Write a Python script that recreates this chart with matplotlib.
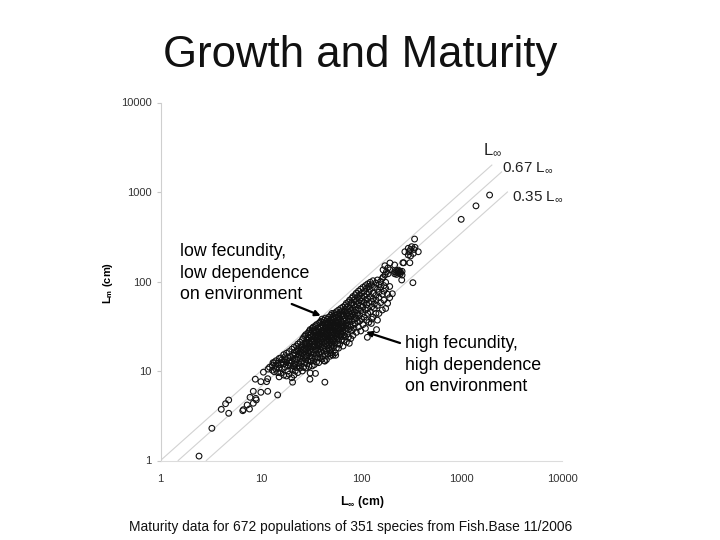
import matplotlib
matplotlib.use('Agg')
import matplotlib.pyplot as plt

# values, in cm
sparse_x = [2.42, 3.25, 4.03, 4.45, 4.78, 4.78, 6.6, 6.7, 7.3, 7.7, 7.8, 8.4, 8.9, 9.0, 8.4, 10, 11.7, 14.7,
            8.8, 10, 10.6, 11.4, 11.7, 12.2, 11.8, 13.2, 43.4, 30.8, 31, 35, 20.7, 43.4, 50.6, 55.6, 76,
            115, 142, 126, 204, 327, 253, 305, 265, 340, 990, 1390, 1900]
sparse_y = [1.12, 2.29, 3.73, 4.31, 4.74, 3.37, 3.6, 3.7, 4.17, 3.76, 5.08, 4.36, 4.95, 4.75, 5.93, 5.78, 5.93, 5.4,
            8.1, 7.6, 9.7, 7.6, 8.2, 11, 10.5, 12.4, 7.5, 8.1, 9.5, 9.4, 7.5, 12.9, 15.3, 15, 20.4,
            23.8, 29, 34, 73, 97, 104, 162, 162, 298, 495, 700, 925]

# dense band: asymptotic length, then the maturity lengths seen at that length
band_columns = [
    (13, [11.5, 10.2]), (13.6, [12.4, 9.8]), (14.1, [10.5, 13, 11.6]), (14.7, [9.6, 12.2]), (15.2, [10.8, 13.8, 8.6]),
    (15.8, [9.5, 11.8, 14]), (16.3, [10.6, 12.6, 13.4]), (16.9, [9, 12, 15.2]), (17.4, [11, 13.4, 14.4]),
    (18, [8.8, 12.5, 15.8]), (18.6, [10, 14, 11.6]), (19.1, [9.2, 13, 16.5]), (19.7, [11.4, 14.6, 12.2]),
    (20.3, [8.4, 10.5, 12.8, 17.5]), (20.9, [15, 11.4, 13.8]), (21.4, [9, 11.2, 16, 18.5]), (22, [13.6, 10, 15, 12]),
    (22.7, [19, 16.6, 13.4, 11]), (23.3, [9.6, 14.2, 17.2, 20]), (23.9, [12.2, 15.4, 18.2, 11.4]),
    (24.6, [13.8, 10.8, 21, 16.4]), (25.2, [12.6, 18.6, 14.8, 17]), (25.9, [10, 22.5, 15.6, 19.6, 13]),
    (26.6, [11, 14, 17.4, 23.5]), (27.3, [12.4, 16.4, 20, 18, 24.5]), (28, [10.8, 15, 19, 21, 13.4, 25.5]),
    (28.7, [12, 14.6, 17.4, 23, 20.4]), (29.4, [18.2, 22, 26.5, 16, 13]), (30.1, [11.2, 15.8, 19, 23.6, 27.5, 21]),
    (30.9, [13.4, 17.4, 25, 14.6, 20, 29]), (31.7, [12.8, 16.2, 18, 22, 24, 26.4]), (32.5, [11.4, 14, 19, 21, 28, 30]),
    (33.3, [17.2, 23, 15.6, 25, 31, 13]), (34.1, [18.8, 22, 11.8, 26.6, 20, 29]), (35, [14.4, 17, 24, 32, 28, 21]),
    (35.9, [12.6, 15.4, 18.4, 22, 27, 33, 25]), (36.8, [20, 24.6, 14, 30, 17, 23]),
    (37.7, [15.6, 19, 21, 26, 34, 28, 12.4]), (38.7, [23, 35, 17.6, 14.2, 25, 31, 20]),
    (39.7, [16.4, 22, 27, 36, 18.6, 30, 24]), (40.7, [13.6, 20, 26, 33, 21, 38, 28]),
    (41.7, [14.8, 18, 23, 32, 25, 29, 35]), (42.8, [16.6, 21, 19, 27, 37, 24, 13]),
    (43.9, [15.4, 23.6, 30, 34, 26, 39, 20]), (45, [17, 22, 28, 33, 25, 36, 13.4, 31]),
    (46.2, [19, 24, 29, 38, 21, 27, 35, 15.6]), (47.4, [18, 23, 31, 26, 40, 34, 20]),
    (48.6, [17, 22, 28, 36, 25, 30, 33, 14.6]), (49.8, [16, 21, 27, 42, 24, 38, 31, 19]),
    (51.1, [25, 34, 29, 23, 37, 18, 44, 20]), (52.4, [15, 22, 31, 27, 35, 41, 24]),
    (53.7, [19, 26, 33, 29, 38, 44, 23]), (55.1, [21, 28, 36, 30, 16, 25, 42]),
    (56.5, [18, 24, 32, 46, 27, 39, 35]), (58, [23, 30, 37, 20, 34, 43, 26]),
    (59.5, [28, 41, 22, 35, 48, 31, 18]), (61, [25, 33, 38, 45, 29, 20]),
    (62.6, [24, 31, 36, 42, 50, 27]), (64.2, [22, 35, 44, 30, 47, 26]),
    (65.8, [19, 28, 38, 33, 52, 41]), (67.5, [25, 31, 46, 36, 22, 42]),
    (69.2, [28, 39, 54, 33, 49, 24]), (71, [21, 34, 44, 37, 57, 30]),
    (72.8, [26, 41, 52, 47, 32]), (74.7, [36, 59, 29, 45, 24]),
    (76.6, [33, 50, 43, 62, 38]), (78.6, [23, 31, 55, 47, 40]),
    (80.6, [36, 58, 28, 65, 44]), (82.7, [50, 33, 42, 68, 25]),
    (84.8, [38, 55, 46, 62, 30]), (87, [71, 34, 52, 42]),
    (89.2, [48, 60, 27, 74, 39]), (91.5, [55, 36, 66, 44]),
    (93.8, [31, 50, 78, 58]), (96.2, [42, 63, 36, 70]),
    (98.7, [54, 82, 28, 47]), (101, [60, 38, 74, 66]),
    (104, [44, 86, 52, 33]), (107, [68, 40, 78, 58]),
    (110, [90, 48, 30, 62]), (113, [55, 72, 84, 37]),
    (116, [44, 94, 64, 50]), (119, [76, 35, 58, 88]),
    (123, [98, 46, 68, 82]), (127, [52, 60, 92, 38]),
    (131, [40, 74, 102, 64]), (135, [86, 50, 56]),
    (140, [96, 44, 70, 62]), (145, [82, 104, 37, 54]),
    (150, [66, 92, 44, 76]), (156, [100, 58, 86]),
    (162, [72, 108, 48]), (168, [62, 90, 78]),
    (175, [50, 84, 98]), (183, [57, 72]), (192, [66, 88]),
    (165, [135, 112]), (172, [118, 150]), (178, [128]), (185, [142, 122]), (193, [161, 135]), (215, [153, 122, 128]),
    (225, [120, 126, 132]), (235, [124, 130, 134]), (245, [122, 128, 127]), (255, [130, 118]), (260, [162]),
    (272, [215]), (294, [235, 198]), (300, [215]), (310, [193, 228]), (318, [245]), (330, [206]), (335, [228]),
    (343, [241]), (370, [215]),
]

ref_start = [1, 1.5, 2.86]
ref_end = [2000, 2500, 2860]
ref_y_end = [2000, 1675, 1000]

band_x = [x for x, ys in band_columns for y in ys]
band_y = [y for x, ys in band_columns for y in ys]

plt.rcParams['font.family'] = ['Liberation Sans', 'DejaVu Sans']
plt.rcParams['mathtext.default'] = 'regular'

fig = plt.figure(figsize=(7.2, 5.4), dpi=100)
ax = fig.add_axes([160.5 / 720, 79.5 / 540, 401.5 / 720, 358 / 540])

for x0, x1, y1 in zip(ref_start, ref_end, ref_y_end):
    ax.plot([x0, x1], [1, y1], color='#d2d2d2', lw=0.8, zorder=1)

ax.scatter(band_x, band_y, s=17, facecolors='none', edgecolors='#111111', linewidths=0.8, zorder=2)
ax.scatter(sparse_x, sparse_y, s=17, facecolors='none', edgecolors='#111111', linewidths=0.8, zorder=2)

ax.set_xscale('log')
ax.set_yscale('log')
ax.set_xlim(1, 10000)
ax.set_ylim(1, 10000)
ax.set_xticks([1, 10, 100, 1000, 10000], ['1', '10', '100', '1000', '10000'])
ax.set_yticks([1, 10, 100, 1000, 10000], ['1', '10', '100', '1000', '10000'])
ax.minorticks_off()
ax.tick_params(axis='x', length=0, labelsize=8, labelcolor='#333333', pad=9.5)
ax.tick_params(axis='y', length=3, color='#c8c8c8', labelsize=8, labelcolor='#333333', pad=3.5)
ax.spines['top'].set_visible(False)
ax.spines['right'].set_visible(False)
ax.spines['left'].set_color('#cfcfcf')
ax.spines['bottom'].set_color('#dcdcdc')


def px(x, y):
    return x / 720, 1 - y / 540


fig.text(*px(360, 55), 'Growth and Maturity', fontsize=31.5, ha='center', va='center', color='#111111')
fig.text(*px(180, 273), 'low fecundity,\nlow dependence\non environment', fontsize=12.8, va='center',
         linespacing=1.375, color='black')
fig.text(*px(405, 365), 'high fecundity,\nhigh dependence\non environment', fontsize=12.8, va='center',
         linespacing=1.375, color='black')
fig.text(*px(129, 527), 'Maturity data for 672 populations of 351 species from Fish.Base 11/2006', fontsize=9.93,
         va='center', color='#111111')
fig.text(*px(108, 283), r'L$_{m}$ (cm)', fontsize=8, fontweight='bold', rotation=90, ha='center', va='center')
fig.text(*px(362, 502), r'L$_{\infty}$ (cm)', fontsize=8.8, fontweight='bold', ha='center', va='center')
fig.text(*px(483, 150), r'L$_{\infty}$', fontsize=12, va='center', color='#222222')
fig.text(*px(502, 168), r'0.67 L$_{\infty}$', fontsize=11, va='center', color='#222222')
fig.text(*px(512, 197), r'0.35 L$_{\infty}$', fontsize=11, va='center', color='#222222')

for tail, tip in [((291.7, 304), (320.7, 315.7)), ((400, 343), (366, 332))]:
    ax.annotate('', xy=px(*tip), xytext=px(*tail), xycoords='figure fraction', textcoords='figure fraction',
                arrowprops=dict(arrowstyle='-|>', color='black', lw=1.6, mutation_scale=8, shrinkA=0, shrinkB=0),
                zorder=5)

fig.savefig('out.png', dpi=100)
